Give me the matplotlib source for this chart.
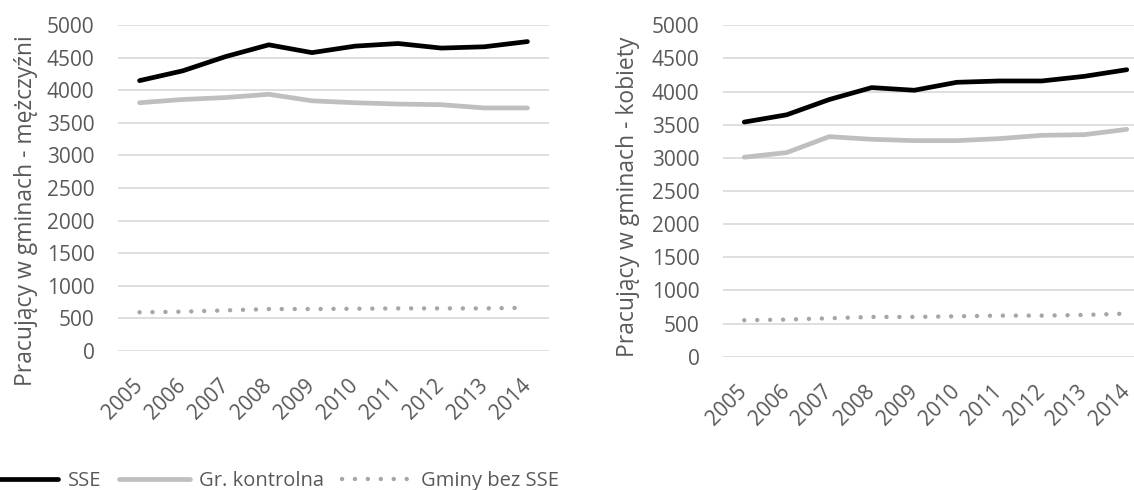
import matplotlib
matplotlib.use('Agg')
import matplotlib.pyplot as plt
from matplotlib.lines import Line2D

plt.rcParams['font.family'] = ['Open Sans', 'DejaVu Sans']

years = [2005, 2006, 2007, 2008, 2009, 2010, 2011, 2012, 2013, 2014]

# mężczyźni
sse_m = [4150, 4300, 4520, 4700, 4580, 4680, 4720, 4650, 4670, 4750]
kontr_m = [3810, 3860, 3890, 3940, 3840, 3810, 3790, 3780, 3730, 3730]
bez_m = [590, 600, 620, 640, 640, 645, 650, 650, 650, 660]

# kobiety
sse_k = [3540, 3650, 3880, 4060, 4020, 4140, 4160, 4160, 4230, 4330]
kontr_k = [3010, 3080, 3320, 3280, 3260, 3260, 3290, 3340, 3350, 3430]
bez_k = [550, 560, 580, 600, 600, 610, 620, 620, 630, 650]

yticks = [0, 500, 1000, 1500, 2000, 2500, 3000, 3500, 4000, 4500, 5000]
labels = ['SSE', 'Gr. kontrolna', 'Gminy bez SSE']
ylabels = ['Pracujący w gminach - mężczyźni', 'Pracujący w gminach - kobiety']

txt = '#595959'
grid = '#D9D9D9'
c_sse = '#000000'
c_kontr = '#BFBFBF'
c_bez = '#A6A6A6'

fig = plt.figure(figsize=(11.34, 4.9), dpi=100)
W, H = 1134, 490
ax1 = fig.add_axes([118 / W, 1 - 350.7 / H, 431 / W, 325.4 / H])
ax2 = fig.add_axes([723 / W, 1 - 356.7 / H, 425 / W, 331.4 / H])

dots = (0, (0.01, 2.9))

for ax, sse, kontr, bez, yl, lpos in [(ax1, sse_m, kontr_m, bez_m, ylabels[0], (-0.186, 0.432)),
                                      (ax2, sse_k, kontr_k, bez_k, ylabels[1], (-0.195, 0.482))]:
    ax.plot(years, sse, color=c_sse, lw=3.4, solid_capstyle='round', solid_joinstyle='round', zorder=4)
    ax.plot(years, kontr, color=c_kontr, lw=3.4, solid_capstyle='round', solid_joinstyle='round', zorder=3)
    ax.plot(years, bez, color=c_bez, lw=3.2, linestyle=dots, dash_capstyle='round', zorder=3)
    ax.set_xlim(2004.5, 2014.5)
    ax.set_ylim(0, 5000)
    ax.set_yticks(yticks)
    ax.set_xticks(years)
    ax.set_xticklabels([str(y) for y in years], rotation=45, ha='right', va='center',
                       rotation_mode='anchor')
    ax.grid(axis='y', color=grid, lw=1.2)
    ax.set_axisbelow(True)
    for s in ax.spines.values():
        s.set_visible(False)
    ax.tick_params(axis='both', length=0, colors=txt, labelsize=15)
    ax.tick_params(axis='y', pad=17)
    ax.tick_params(axis='x', pad=23)
    ax.set_ylabel(yl, color=txt, fontsize=16.5)
    ax.yaxis.set_label_coords(*lpos)

handles = [Line2D([], [], color=c_sse, lw=3.4, solid_capstyle='round'),
           Line2D([], [], color=c_kontr, lw=3.4, solid_capstyle='round'),
           Line2D([], [], color=c_bez, lw=3.2, linestyle=dots, dash_capstyle='round')]
fig.legend(handles, labels, loc='center left', bbox_to_anchor=(-12 / W, 1 - 481 / H),
           ncol=3, frameon=False, fontsize=14.5, labelcolor=txt, handlelength=3.5,
           handletextpad=0.45, columnspacing=0.9, borderpad=0, borderaxespad=0)

fig.savefig('out.png', dpi=100)
